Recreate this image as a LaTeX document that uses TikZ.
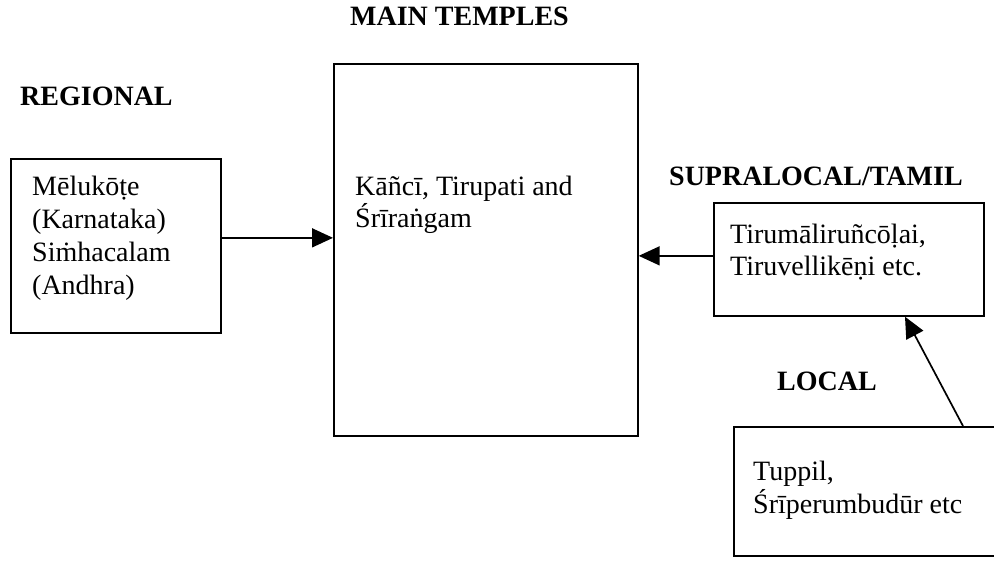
\documentclass[tikz,border=0pt]{standalone}
\usepackage{fontspec}
\setmainfont{Liberation Serif}
\usetikzlibrary{arrows.meta}
\begin{document}
\begin{tikzpicture}[x=1pt,y=-1pt,
  box/.style={draw, line width=1.7pt, inner sep=0pt, anchor=north west},
  txt/.style={anchor=base west, inner sep=0pt, font=\fontsize{28}{33}\selectfont},
  head/.style={anchor=base west, inner sep=0pt, font=\fontsize{28}{33}\selectfont\bfseries},
  arr/.style={line width=1.7pt, -{Triangle[length=21pt,width=19pt]}}]
\useasboundingbox (0,0) rectangle (994,563);
% boxes
\node[box, minimum width=210pt, minimum height=174pt] (reg) at (10,158) {};
\node[box, minimum width=304pt, minimum height=372pt] (main) at (333,63) {};
\node[box, minimum width=270pt, minimum height=113pt] (sup) at (713,202) {};
\node[box, minimum width=280pt, minimum height=129pt] (loc) at (733,426) {};
% headings
\node[head] (hmain) at (350,25) {MAIN TEMPLES};
\node[head] (hreg) at (20,105) {REGIONAL};
\node[head] (hsup) at (669,185) {SUPRALOCAL/TAMIL};
\node[head] (hloc) at (777,390) {LOCAL};
% texts
\node[txt] (r1) at (32,195) {Mēlukōṭe};
\node[txt] (r2) at (32,228) {(Karnataka)};
\node[txt] (r3) at (32,261) {Siṁhacalam};
\node[txt] (r4) at (32,294) {(Andhra)};
\node[txt] (m1) at (355,195) {Kāñcī, Tirupati and};
\node[txt] (m2) at (355,227) {Śrīraṅgam};
\node[txt] (s1) at (730,243) {Tirumāliruñcōḷai,};
\node[txt] (s2) at (730,275) {Tiruvellikēṇi etc.};
\node[txt] (l1) at (753,480) {Tuppil,};
\node[txt] (l2) at (753,513) {Śrīperumbudūr etc};
% arrows
\draw[arr] ([yshift=8pt]reg.east) -- ([yshift=8pt]reg.east -| main.west);
\draw[arr] ([yshift=3.5pt]sup.west) -- ([yshift=3.5pt]sup.west -| main.east);
\draw[arr] ([xshift=230pt]loc.north west) -- ([xshift=192pt]sup.south west);
\end{tikzpicture}
\end{document}
